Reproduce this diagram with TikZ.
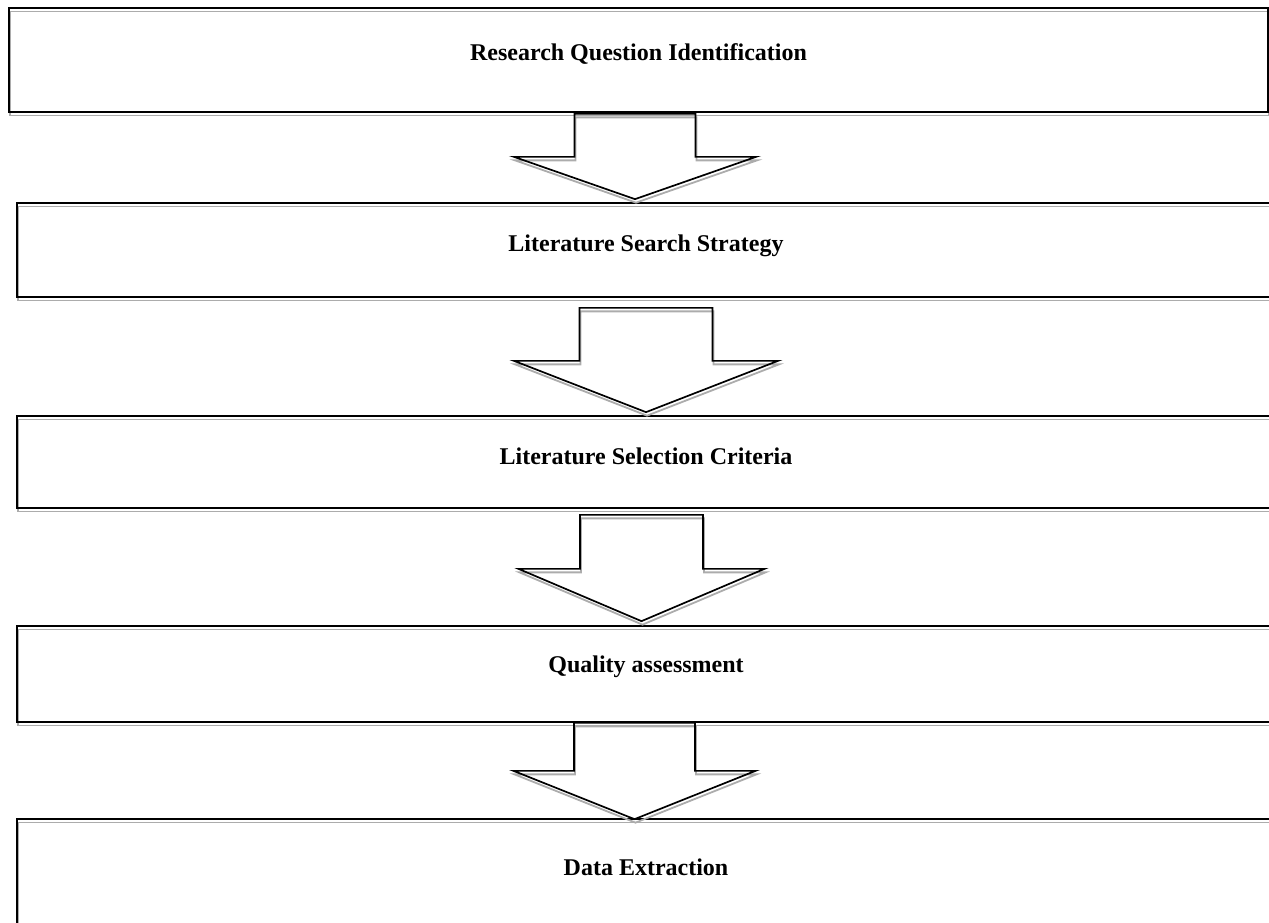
\documentclass[tikz,border=0pt]{standalone}
\usepackage{fontspec}
\setmainfont{Liberation Serif}
\usetikzlibrary{calc}

\tikzset{
  ghost/.style={preaction={draw=gray!65, line width=1.8pt, transform canvas={shift={(1pt,-3.5pt)}}}},
  stage/.style={draw, rectangle, line width=1.7pt, inner sep=0pt, ghost},
  stagetext/.style={font=\fontsize{24}{28}\selectfont\bfseries},
  flow/.style={draw, line width=1.7pt, line join=miter, ghost},
}

% #1 upper box, #2 lower box, #3 centre x, #4 gap below #1, #5 shaft length,
% #6 half shaft width, #7 half head width, #8 gap above #2
\newcommand{\stagearrow}[8]{%
  \draw[flow] let \p1=(#1.south), \p2=(#2.north) in
    ({(#3-#6)*1pt},{\y1-(#4)*1pt}) -- ({(#3+#6)*1pt},{\y1-(#4)*1pt})
    -- ({(#3+#6)*1pt},{\y1-(#4+#5)*1pt}) -- ({(#3+#7)*1pt},{\y1-(#4+#5)*1pt})
    -- ({#3*1pt},{\y2+(#8)*1pt})
    -- ({(#3-#7)*1pt},{\y1-(#4+#5)*1pt}) -- ({(#3-#6)*1pt},{\y1-(#4+#5)*1pt}) -- cycle;
}

\begin{document}
\begin{tikzpicture}[x=1pt,y=-1pt]
  \useasboundingbox (0,0) rectangle (1269,922);
  \clip (0,0) rectangle (1269,922);

  % steps
  \node[stage, minimum width=1259pt, minimum height=104pt,
    label={[stagetext,yshift=6pt]center:Research Question Identification}] (rq) at (638.5,60) {};
  \node[stage, minimum width=1258pt, minimum height=94pt,
    label={[stagetext,yshift=4pt]center:Literature Search Strategy}] (ls) at (646,250) {};
  \node[stage, minimum width=1258pt, minimum height=92pt,
    label={[stagetext,yshift=6pt]center:Literature Selection Criteria}] (sc) at (646,462) {};
  \node[stage, minimum width=1258pt, minimum height=96pt,
    label={[stagetext,yshift=7pt]center:Quality assessment}] (qa) at (646,674) {};
  \node[stage, minimum width=1258pt, minimum height=121pt,
    label={[stagetext,yshift=12pt]center:Data Extraction}] (de) at (646,879.5) {};

  % block arrows
  \stagearrow{rq}{ls}{635}{1}{43}{60.5}{121}{3}
  \stagearrow{ls}{sc}{646}{10}{53}{66.5}{132}{3}
  \stagearrow{sc}{qa}{641.5}{6}{54}{61.5}{123}{4}
  \stagearrow{qa}{de}{634.5}{0}{48}{60.5}{121}{-1}
\end{tikzpicture}
\end{document}
